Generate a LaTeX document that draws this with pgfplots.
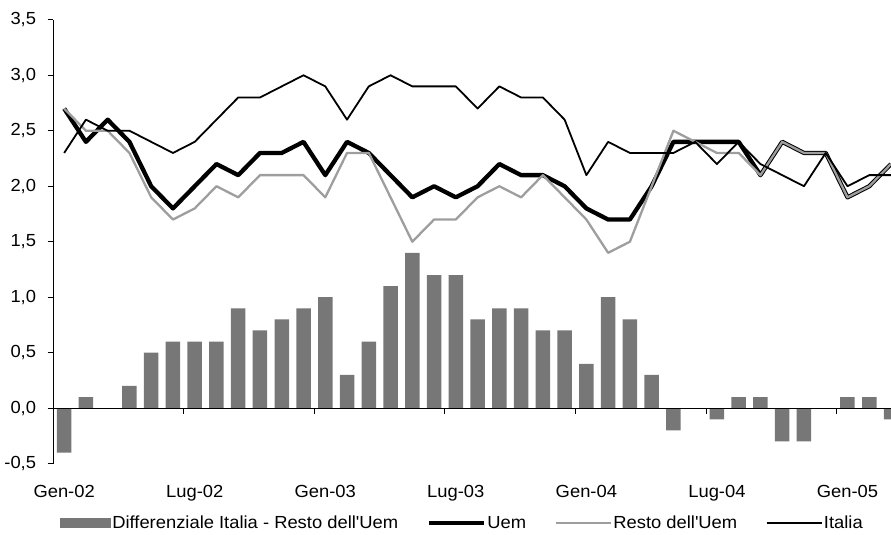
\documentclass[border=0pt]{standalone}
\usepackage{fontspec}
\setmainfont{Liberation Sans}[FakeStretch=1.05]
\usepackage{pgfplots}
\pgfplotsset{compat=1.18}
\usepackage{pgfplotstable}
\definecolor{barc}{RGB}{119,119,119}
\definecolor{restoc}{RGB}{158,158,158}

\pgfplotstableread{
idx diff uem resto italia
0 -0.4 2.7 2.7 2.3
1 0.1 2.4 2.5 2.6
2 0.0 2.6 2.5 2.5
3 0.2 2.4 2.3 2.5
4 0.5 2.0 1.9 2.4
5 0.6 1.8 1.7 2.3
6 0.6 2.0 1.8 2.4
7 0.6 2.2 2.0 2.6
8 0.9 2.1 1.9 2.8
9 0.7 2.3 2.1 2.8
10 0.8 2.3 2.1 2.9
11 0.9 2.4 2.1 3.0
12 1.0 2.1 1.9 2.9
13 0.3 2.4 2.3 2.6
14 0.6 2.3 2.3 2.9
15 1.1 2.1 1.9 3.0
16 1.4 1.9 1.5 2.9
17 1.2 2.0 1.7 2.9
18 1.2 1.9 1.7 2.9
19 0.8 2.0 1.9 2.7
20 0.9 2.2 2.0 2.9
21 0.9 2.1 1.9 2.8
22 0.7 2.1 2.1 2.8
23 0.7 2.0 1.9 2.6
24 0.4 1.8 1.7 2.1
25 1.0 1.7 1.4 2.4
26 0.8 1.7 1.5 2.3
27 0.3 2.0 2.0 2.3
28 -0.2 2.4 2.5 2.3
29 0.0 2.4 2.4 2.4
30 -0.1 2.4 2.3 2.2
31 0.1 2.4 2.3 2.4
32 0.1 2.1 2.1 2.2
33 -0.3 2.4 2.4 2.1
34 -0.3 2.3 2.3 2.0
35 0.0 2.3 2.3 2.3
36 0.1 1.9 1.9 2.0
37 0.1 2.0 2.0 2.1
38 -0.1 2.2 2.2 2.1
}\datatable

\begin{document}
\begin{tikzpicture}
\begin{axis}[
  scale only axis, width=838bp, height=444bp,
  xmin=-0.5, xmax=38, ymin=-0.5, ymax=3.5,
  enlargelimits=false,
  axis lines=left,
  axis line style={-, line width=1pt, black},
  x axis line style={draw=none},
  xtick={0,6,12,18,24,30,36},
  xticklabels={Gen-02,Lug-02,Gen-03,Lug-03,Gen-04,Lug-04,Gen-05},
  x tick style={draw=none},
  xticklabel style={yshift=-12bp},
  ytick={-0.5,0,0.5,1,1.5,2,2.5,3,3.5},
  tick align=outside,
  major tick length=5.7bp,
  y tick style={black, line width=1pt},
  yticklabel={\pgfmathprintnumber[fixed,fixed zerofill,precision=1,use comma,assume math mode=true]{\tick}},
  yticklabel style={xshift=-8bp},
  tick label style={font=\fontsize{17.5bp}{20bp}\selectfont},
  legend columns=4,
  legend style={at={(0.004,-0.1333)}, anchor=west, draw=none, fill=none,
    font=\fontsize{17.5bp}{20bp}\selectfont,
    /tikz/every even column/.append style={column sep=27bp},
    nodes={inner sep=1.5bp}},
  legend cell align=left,
]
\addplot[ybar, bar width=14.5bp, fill=barc, draw=none,
  legend image code/.code={\fill[barc] (0bp,-5.3bp) rectangle (51bp,5.3bp);}]
  table[x=idx, y=diff] {\datatable};
\addlegendentry{Differenziale Italia - Resto dell\textquotesingle Uem}
\addplot[black, line width=4.3bp, line join=round, no markers,
  legend image code/.code={\draw[black, line width=4.3bp] (0bp,0bp) -- (55bp,0bp);}]
  table[x=idx, y=uem] {\datatable};
\addlegendentry{Uem}
\addplot[restoc, line width=2.3bp, line join=round, no markers,
  legend image code/.code={\draw[restoc, line width=2.3bp] (0bp,0bp) -- (55bp,0bp);}]
  table[x=idx, y=resto] {\datatable};
\addlegendentry{Resto dell\textquotesingle Uem}
\addplot[black, line width=1.8bp, line join=round, no markers,
  legend image code/.code={\draw[black, line width=1.8bp] (0bp,0bp) -- (55bp,0bp);}]
  table[x=idx, y=italia] {\datatable};
\addlegendentry{Italia}
\draw[black, line width=1.2pt] (axis cs:-0.5,0) -- (axis cs:38,0);
\pgfplotsinvokeforeach{5.5,11.5,17.5,23.5,29.5,35.5}{
  \draw[black, line width=1pt] (axis cs:#1,0) -- ++(0bp,-5.7bp);
}
\coordinate (sw) at (rel axis cs:0,0);
\end{axis}
\pgfresetboundingbox
\path (sw) ++(-53.3bp,-71.2bp) rectangle ++(891.3bp,535bp);
\end{tikzpicture}
\end{document}
